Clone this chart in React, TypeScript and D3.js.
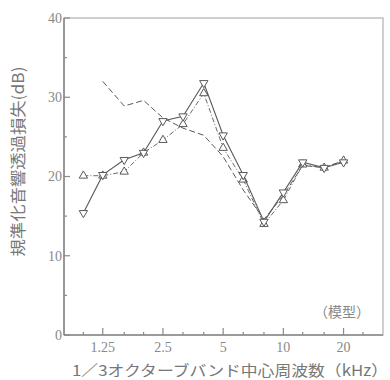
import React from 'react';
import * as d3 from 'd3';

// 1/3オクターブ中心周波数 (kHz)
const freqs = [1, 1.25, 1.6, 2, 2.5, 3.15, 4, 5, 6.3, 8, 10, 12.5, 16, 20];
const tickFreqs = [1, 1.25, 1.6, 2, 2.5, 3.15, 4, 5, 6.3, 8, 10, 12.5, 16, 20, 25];
const labelFreqs = [1.25, 2.5, 5, 10, 20];
const yTicks = [0, 10, 20, 30, 40];
const yMinor = [5, 15, 25, 35];

// 系列 (dB)
const seriesA = [15.4, 20.2, 22.1, 23.0, 27.0, 27.6, 31.8, 25.2, 20.2, 14.3, 18.0, 21.8, 21.1, 21.8];
const seriesB = [20.1, 20.1, 20.6, 23.0, 24.6, 26.6, 30.5, 23.6, 19.6, 14.0, 17.0, 21.5, 21.1, 22.0];
const seriesC = [null, 32.0, 28.9, 29.6, 27.4, 26.1, 25.2, 22.5, 18.3, 14.6, 17.6, 21.4, 21.1, 22.0];

const W = 390;
const H = 380;
const margin = { left: 64, right: 7, top: 18, bottom: 45 };
const gray = '#8a8a8a';
const ink = '#5a5a5a';

export default function App() {
  const x = d3.scaleLog().domain([0.8, 31.5]).range([margin.left, W - margin.right]);
  const y = d3.scaleLinear().domain([0, 40]).range([H - margin.bottom, margin.top]);
  const x0 = x.range()[0], x1 = x.range()[1];
  const y0 = y.range()[0], y1 = y.range()[1];

  const line = d3.line<[number, number | null]>()
    .defined(d => d[1] !== null)
    .x(d => x(d[0]))
    .y(d => y(d[1] as number));

  const pts = (vals: (number | null)[]) => freqs.map((f, i) => [f, vals[i]] as [number, number | null]);

  const tri = d3.symbol().type(d3.symbolTriangle).size(30)();

  return (
    <svg width={W} height={H} style={{ position: 'absolute', left: 0, top: 0, background: '#fff' }}>
      {/* 枠 */}
      <rect x={x0} y={y1} width={x1 - x0} height={y0 - y1} fill="none" stroke="#b0b0b0" strokeWidth={1.2} />
      <line x1={x0} x2={x0} y1={y1} y2={y0} stroke={gray} strokeWidth={1.6} />
      <line x1={x0} x2={x1} y1={y0} y2={y0} stroke={gray} strokeWidth={1.6} />

      {/* 縦軸目盛 */}
      {yTicks.map(t => (
        <g key={'y' + t}>
          <line x1={x0} x2={x0 + 6} y1={y(t)} y2={y(t)} stroke={gray} strokeWidth={1.2} />
          <text x={x0 - 2} y={y(t)} dy="0.35em" textAnchor="end" fontSize={14}
            fontFamily="Liberation Serif, serif" fill="#888">{t}</text>
        </g>
      ))}
      {yMinor.map(t => (
        <line key={'ym' + t} x1={x0} x2={x0 + 3} y1={y(t)} y2={y(t)} stroke={gray} strokeWidth={1.2} />
      ))}

      {/* 横軸目盛 */}
      {tickFreqs.map(f => (
        <line key={'x' + f} x1={x(f)} x2={x(f)} y1={y0} y2={y0 - (labelFreqs.includes(f) ? 7 : 3)}
          stroke={gray} strokeWidth={1.2} />
      ))}
      {labelFreqs.map(f => (
        <text key={'xl' + f} x={x(f)} y={y0 + 17} textAnchor="middle" fontSize={14}
          fontFamily="Liberation Serif, serif" fill="#888">{f}</text>
      ))}

      {/* 系列C: 破線 */}
      <path d={line(pts(seriesC)) || ''} fill="none" stroke={ink} strokeWidth={1} strokeDasharray="6,3" />

      {/* 系列B: △ */}
      <path d={line(pts(seriesB)) || ''} fill="none" stroke={ink} strokeWidth={0.9} strokeDasharray="5,2,1,2" />
      {freqs.map((f, i) => (
        <path key={'b' + f} d={tri || ''} transform={`translate(${x(f)},${y(seriesB[i])})`}
          fill="#fff" stroke={ink} strokeWidth={1} />
      ))}

      {/* 系列A: ▽ */}
      <path d={line(pts(seriesA)) || ''} fill="none" stroke={ink} strokeWidth={1.1} />
      {freqs.map((f, i) => (
        <path key={'a' + f} d={tri || ''} transform={`translate(${x(f)},${y(seriesA[i])}) rotate(180)`}
          fill="#fff" stroke={ink} strokeWidth={1} />
      ))}

      {/* 軸ラベル */}
      <text transform={`translate(24,${(y0 + y1) / 2 - 15}) rotate(-90)`} textAnchor="middle"
        fontSize={16} fontFamily="Noto Sans CJK JP, sans-serif" fill="#777"
        textLength={190} lengthAdjust="spacingAndGlyphs">規準化音響透過損失(dB)</text>
      <text x={(x0 + W) / 2 + 3} y={376} textAnchor="middle" fontSize={15}
        fontFamily="Noto Sans CJK JP, sans-serif" fill="#777"
        textLength={316} lengthAdjust="spacingAndGlyphs">1／3オクターブバンド中心周波数（kHz）</text>
      <text x={342} y={317} textAnchor="middle" fontSize={14}
        fontFamily="Noto Sans CJK JP, sans-serif" fill="#888">（模型）</text>
    </svg>
  );
}
